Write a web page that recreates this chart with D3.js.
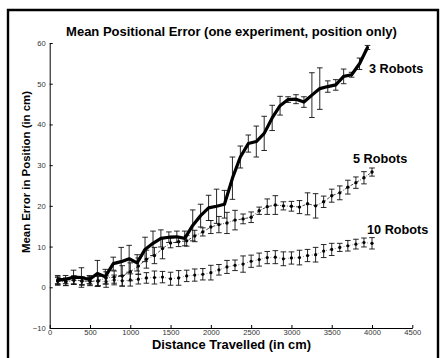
<!DOCTYPE html>
<html>
<head>
<meta charset="utf-8">
<script src="https://cdn.jsdelivr.net/npm/d3@7/dist/d3.min.js"></script>
<style>
  html, body { margin: 0; padding: 0; background: #fff; }
  svg { display: block; }
  text { font-family: "Liberation Sans", Arial, Helvetica, sans-serif; }
</style>
</head>
<body>
<svg id="chart" width="440" height="358"></svg>
<script>
// Distances (cm) at which the 3-robot run was sampled
const dist3 = [99, 197, 296, 394, 493, 592, 690, 789, 887, 986,
  1085, 1183, 1282, 1380, 1479, 1578, 1676, 1775, 1873, 1972,
  2071, 2169, 2268, 2366, 2465, 2564, 2662, 2761, 2859, 2958,
  3057, 3155, 3254, 3352, 3451, 3550, 3648, 3747, 3845, 3944];
// Distances (cm) for the 5- and 10-robot runs
const distN = [100, 200, 300, 400, 500, 600, 700, 800, 900, 1000,
  1100, 1200, 1300, 1400, 1500, 1600, 1700, 1800, 1900, 2000,
  2100, 2200, 2300, 2400, 2500, 2600, 2700, 2800, 2900, 3000,
  3100, 3200, 3300, 3400, 3500, 3600, 3700, 3800, 3900, 4000];

// Mean positional error (cm) and its spread
const mean3 = [1.9, 1.9, 2.5, 2.4, 1.9, 3.4, 2.6, 5.8, 6.3, 7.0,
  6.0, 9.3, 10.8, 12.0, 12.3, 12.4, 12.0, 15.2, 17.6, 19.5,
  19.9, 20.4, 26.8, 32.0, 35.3, 35.8, 37.8, 41.6, 44.6, 46.1,
  46.2, 45.5, 47.2, 48.8, 49.3, 49.7, 51.8, 52.2, 54.9, 58.9];
const err3 = [1.0, 1.0, 1.7, 2.4, 1.0, 3.2, 1.8, 1.6, 3.5, 3.3,
  2.0, 3.0, 3.0, 2.1, 1.3, 1.4, 1.8, 3.8, 2.8, 3.1,
  4.2, 3.4, 5.2, 2.7, 2.1, 3.8, 4.2, 3.1, 2.3, 0.7,
  1.1, 1.3, 5.5, 5.1, 1.4, 1.3, 1.8, 0.6, 1.4, 0.5];

const mean5 = [1.5, 1.3, 1.8, 1.6, 1.4, 1.6, 2.3, 2.5, 2.8, 3.8,
  5.2, 6.9, 7.8, 9.5, 10.9, 11.2, 11.4, 12.6, 13.6, 14.8,
  15.4, 15.8, 16.5, 16.8, 17.2, 18.8, 19.8, 20.2, 20.0, 19.9,
  19.7, 20.5, 20.0, 21.0, 22.5, 23.2, 24.6, 25.7, 26.9, 28.3];
const err5 = [1.0, 0.9, 1.0, 0.9, 1.0, 1.2, 1.5, 1.5, 2.5, 2.2,
  2.0, 2.2, 2.0, 2.5, 1.2, 1.2, 1.3, 1.4, 1.0, 1.6,
  2.0, 2.6, 2.4, 1.2, 1.3, 0.9, 1.9, 2.3, 1.0, 1.2,
  1.6, 2.7, 3.0, 1.4, 1.6, 1.7, 1.7, 1.4, 1.5, 1.0];

const mean10 = [1.6, 1.4, 1.7, 1.5, 1.6, 1.5, 1.4, 1.8, 1.6, 1.8,
  2.0, 2.3, 2.4, 2.5, 2.1, 2.3, 2.8, 3.0, 3.2, 3.6,
  4.3, 5.0, 5.4, 5.7, 6.4, 6.8, 7.3, 7.4, 7.0, 7.2,
  7.3, 7.8, 8.0, 8.9, 9.3, 9.8, 10.2, 10.6, 11.0, 10.8];
const err10 = [0.9, 0.9, 1.0, 1.0, 1.0, 1.2, 1.4, 1.2, 1.3, 1.5,
  1.2, 1.3, 1.6, 1.4, 1.6, 1.8, 1.4, 1.5, 1.4, 1.8,
  1.3, 1.6, 1.3, 2.0, 1.5, 1.6, 1.5, 1.6, 1.7, 1.5,
  1.8, 1.5, 1.8, 1.6, 1.5, 1.0, 1.3, 1.2, 1.1, 1.4];

const xTicks = [0, 500, 1000, 1500, 2000, 2500, 3000, 3500, 4000, 4500];
const yTicks = [-10, 0, 10, 20, 30, 40, 50, 60];
const seriesNames = ["3 Robots", "5 Robots", "10 Robots"];

const titleText = "Mean Positional Error (one experiment, position only)";
const xTitle = "Distance Travelled (in cm)";
const yTitle = "Mean Error in Position (in cm)";

const svg = d3.select("#chart");

// figure frame
svg.append("path")
  .attr("d", "M8,362 V10 H438 V362")
  .attr("fill", "none").attr("stroke", "#000").attr("stroke-width", 2.4);

const x = d3.scaleLinear().domain([0, 4500]).range([49.7, 412.3]);
const y = d3.scaleLinear().domain([-10, 60]).range([328, 43]);

const tickFont = 7.6;

const gx = svg.append("g").attr("transform", `translate(0,${y(-10)})`)
  .call(d3.axisBottom(x).tickValues(xTicks).tickFormat(d3.format("d"))
    .tickSizeInner(-3).tickSizeOuter(0).tickPadding(2));
const gy = svg.append("g").attr("transform", `translate(${x(0)},0)`)
  .call(d3.axisLeft(y).tickValues(yTicks).tickFormat(d3.format("d"))
    .tickSizeInner(-3).tickSizeOuter(0).tickPadding(4));
[gx, gy].forEach(g => {
  g.select(".domain").attr("stroke", "#000").attr("stroke-width", 1);
  g.selectAll(".tick line").attr("stroke", "#000").attr("stroke-width", 1);
  g.selectAll(".tick text").attr("font-size", tickFont).attr("fill", "#333")
    .attr("font-family", "Liberation Sans, Arial, sans-serif");
});

// Error bars with caps
function errorBars(xs, ms, es, cls) {
  const cap = 2.8;
  const g = svg.append("g").attr("class", cls)
    .attr("stroke", "#111").attr("stroke-width", 0.9).attr("fill", "none");
  const data = xs.map((d, i) => ({ x: d, m: ms[i], e: es[i] }));
  g.selectAll("path").data(data).join("path")
    .attr("d", d => {
      const cx = x(d.x), y1 = y(d.m + d.e), y2 = y(d.m - d.e);
      return `M${cx},${y1}V${y2}M${cx - cap},${y1}H${cx + cap}M${cx - cap},${y2}H${cx + cap}`;
    });
  return data;
}

// 10 robots: dotted grey line, dot markers
const d10 = errorBars(distN, mean10, err10, "err10");
svg.append("path").datum(d10)
  .attr("d", d3.line().x(d => x(d.x)).y(d => y(d.m)))
  .attr("fill", "none").attr("stroke", "#888").attr("stroke-width", 0.9)
  .attr("stroke-dasharray", "1,2");
svg.append("g").selectAll("circle").data(d10).join("circle")
  .attr("cx", d => x(d.x)).attr("cy", d => y(d.m)).attr("r", 1.6).attr("fill", "#000");

// 5 robots: dash-dot line, dot markers
const d5 = errorBars(distN, mean5, err5, "err5");
svg.append("path").datum(d5)
  .attr("d", d3.line().x(d => x(d.x)).y(d => y(d.m)))
  .attr("fill", "none").attr("stroke", "#333").attr("stroke-width", 0.9)
  .attr("stroke-dasharray", "3,1.5,0.8,1.5");
svg.append("g").selectAll("circle").data(d5).join("circle")
  .attr("cx", d => x(d.x)).attr("cy", d => y(d.m)).attr("r", 1.7).attr("fill", "#000");

// 3 robots: heavy solid line
const d3r = errorBars(dist3, mean3, err3, "err3");
svg.append("path").datum(d3r)
  .attr("d", d3.line().x(d => x(d.x)).y(d => y(d.m)))
  .attr("fill", "none").attr("stroke", "#000").attr("stroke-width", 3.2)
  .attr("stroke-linejoin", "round").attr("stroke-linecap", "round");

// Series labels
const labelPos = [[369, 73], [353, 163], [367, 234]];
svg.append("g").selectAll("text").data(seriesNames).join("text")
  .attr("x", (d, i) => labelPos[i][0]).attr("y", (d, i) => labelPos[i][1])
  .attr("font-size", 12.7).attr("font-weight", "bold").attr("fill", "#000")
  .text(d => d);

// Titles
svg.append("text").attr("x", 231.5).attr("y", 36).attr("text-anchor", "middle")
  .attr("font-size", 13).attr("font-weight", "bold").text(titleText);
svg.append("text").attr("x", 231.5).attr("y", 348.5).attr("text-anchor", "middle")
  .attr("font-size", 12.9).attr("font-weight", "bold").text(xTitle);
svg.append("text").attr("transform", "translate(30,172) rotate(-90)")
  .attr("text-anchor", "middle")
  .attr("font-size", 11.4).attr("font-weight", "bold").text(yTitle);
</script>
</body>
</html>
